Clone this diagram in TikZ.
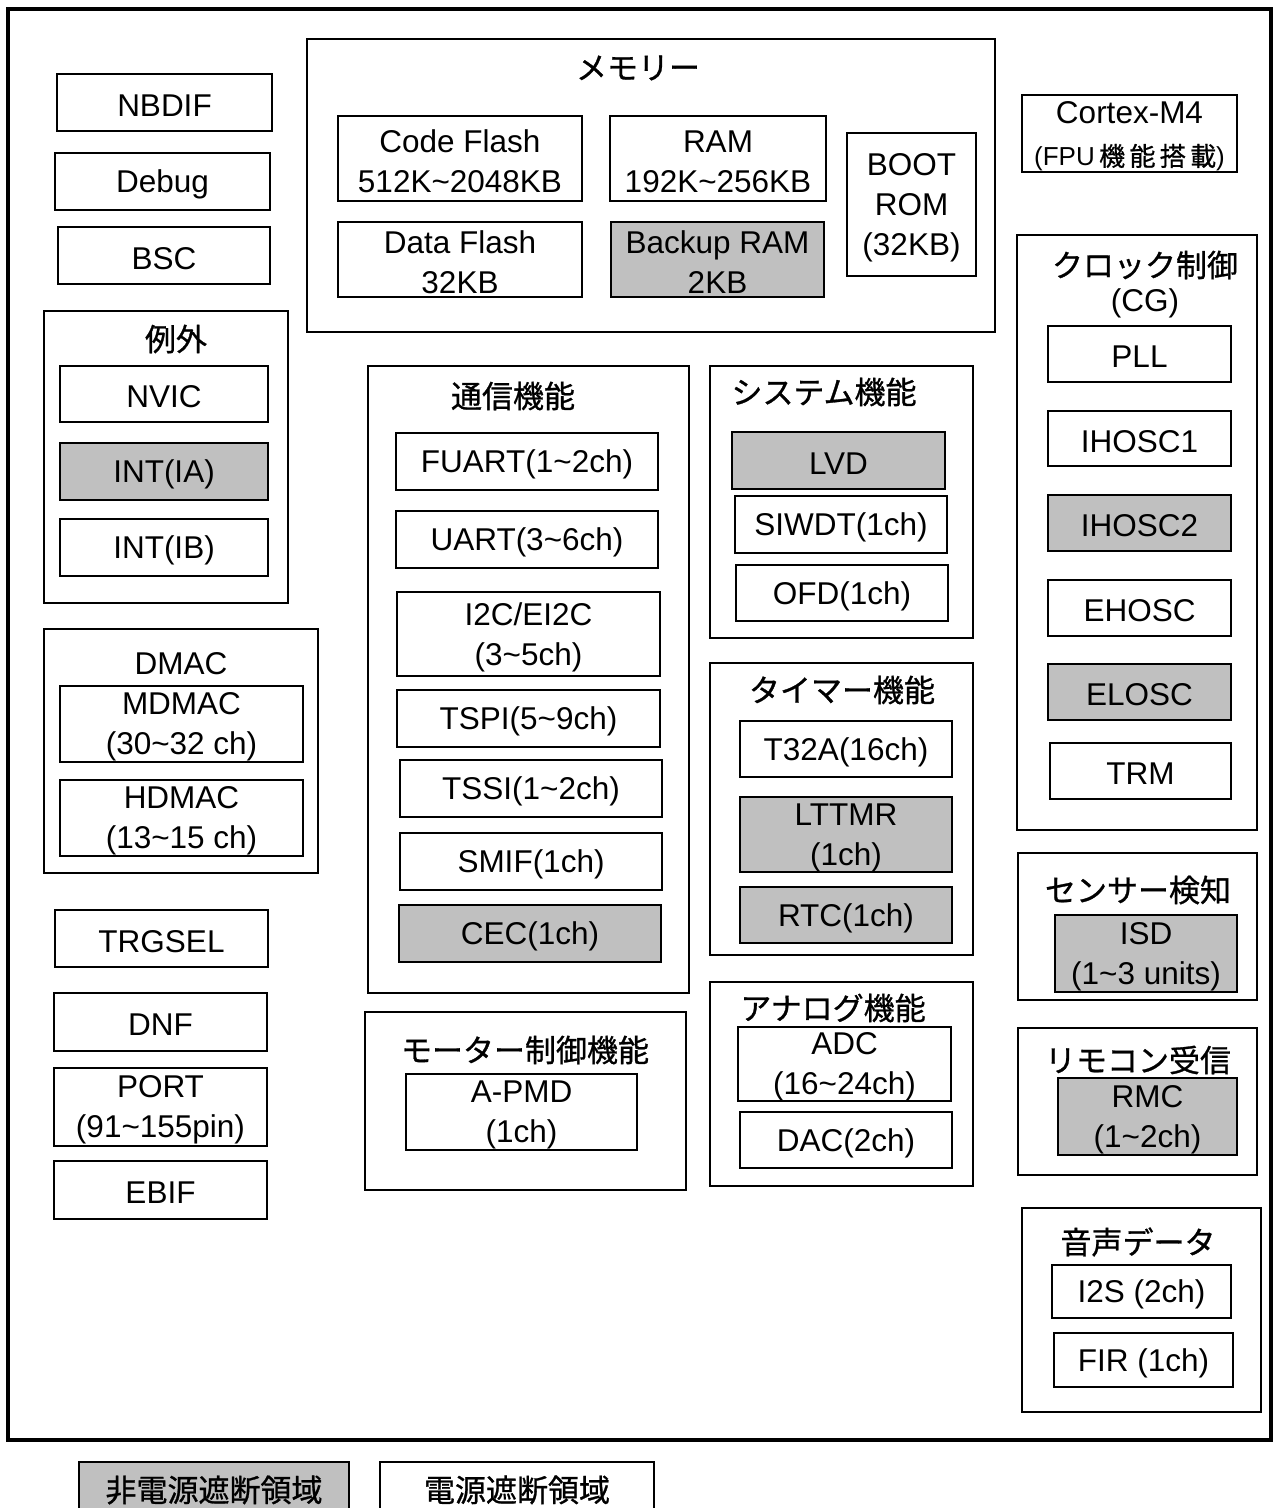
\documentclass[tikz,border=0pt]{standalone}
\usepackage{fontspec}
\setmainfont{Liberation Sans}
\newfontfamily\jpf[FakeBold=0.9]{Noto Sans CJK JP}
\definecolor{graybox}{HTML}{C0C0C0}
\tikzset{
  box/.style={draw=black, line width=2pt, inner sep=0pt, outer sep=0pt},
  txt/.style={inner sep=0pt, outer sep=0pt, align=center, font=\fontsize{31.5}{40}\selectfont},
  grp/.style={draw=black, line width=2.4pt, inner sep=0pt, outer sep=0pt},
  pwr/.style={fill=graybox},
  ttl/.style={inner sep=0pt, font=\fontsize{31}{38}\selectfont\jpf},
}
% \mybox[opts]{name}{x1}{y1}{x2}{y2}{text}
\newcommand{\mybox}[7][]{\node[box,#1,minimum width={#5-#3},minimum height={#6-#4}] (#2) at ({(#3+#5)/2},{(#4+#6)/2}) {};
  \node[txt] (#2-t) at ([yshift=-3pt]#2.center) {#7};}
\newcommand{\mygrp}[6][]{\node[grp,#1,minimum width={#5-#3},minimum height={#6-#4}] (#2) at ({(#3+#5)/2},{(#4+#6)/2}) {};}
\newcommand{\tld}{\textasciitilde}
\begin{document}
\begin{tikzpicture}[x=1pt,y=-1pt]
\useasboundingbox (0,0) rectangle (1279,1508);
\clip (0,0) rectangle (1279,1508);
\fill[white] (0,0) rectangle (1279,1508);
% outer frame
\draw[line width=3.5pt] (8,9) rectangle (1271,1440);

% left column
\mybox{nbdif}{57}{74}{272}{131}{NBDIF}
\mybox{debug}{55}{153}{270}{210}{Debug}
\mybox{bsc}{58}{227}{270}{284}{BSC}

\mygrp{gexc}{44}{311}{288}{603}
\node[ttl] (texc) at (176,339) {例外};
\mybox{nvic}{60}{366}{268}{422}{NVIC}
\mybox[pwr]{intia}{60}{443}{268}{500}{INT(IA)}
\mybox{intib}{60}{519}{268}{576}{INT(IB)}

\mygrp{gdmac}{44}{629}{318}{873}
\node[txt] (tdmac) at (181,664) {DMAC};
\mybox{mdmac}{60}{686}{303}{762}{MDMAC\\(30\tld32 ch)}
\mybox{hdmac}{60}{780}{303}{856}{HDMAC\\(13\tld15 ch)}

\mybox{trgsel}{55}{910}{268}{967}{TRGSEL}
\mybox{dnf}{54}{993}{267}{1051}{DNF}
\mybox{port}{54}{1068}{267}{1146}{PORT\\(91\tld155pin)}
\mybox{ebif}{54}{1161}{267}{1219}{EBIF}

% memory
\mygrp{gmem}{307}{39}{995}{332}
\node[ttl] (tmem) at (638,68) {メモリー};
\mybox{cflash}{338}{116}{582}{201}{Code Flash\\512K\tld2048KB}
\mybox{dflash}{338}{222}{582}{297}{Data Flash\\32KB}
\mybox{ram}{610}{116}{826}{201}{RAM\\192K\tld256KB}
\mybox[pwr]{bram}{611}{222}{824}{297}{Backup RAM\\2KB}
\mybox{boot}{847}{133}{976}{276}{BOOT\\ROM\\(32KB)}

% cortex
\mybox{cpu}{1022}{95}{1237}{172}{Cortex-M4\\[2pt]{\fontsize{26}{30}\selectfont(FPU\,{\jpf 機\,能\,搭\,載})}}

% clock
\mygrp{gclk}{1017}{235}{1257}{830}
\node[ttl] (tclk) at (1145,265) {クロック制御};
\node[txt] (tcg) at (1145,303) {(CG)};
\mybox{pll}{1048}{326}{1231}{382}{PLL}
\mybox{ihosc1}{1048}{411}{1231}{466}{IHOSC1}
\mybox[pwr]{ihosc2}{1048}{495}{1231}{551}{IHOSC2}
\mybox{ehosc}{1048}{580}{1231}{636}{EHOSC}
\mybox[pwr]{elosc}{1048}{664}{1231}{720}{ELOSC}
\mybox{trm}{1050}{743}{1231}{799}{TRM}

% communication
\mygrp{gcom}{368}{366}{689}{993}
\node[ttl] (tcom) at (513,396) {通信機能};
\mybox{fuart}{396}{433}{658}{490}{FUART(1\tld2ch)}
\mybox{uart}{396}{511}{658}{568}{UART(3\tld6ch)}
\mybox{i2c}{397}{592}{660}{676}{I2C/EI2C\\(3\tld5ch)}
\mybox{tspi}{397}{690}{660}{747}{TSPI(5\tld9ch)}
\mybox{tssi}{400}{760}{662}{817}{TSSI(1\tld2ch)}
\mybox{smif}{400}{833}{662}{890}{SMIF(1ch)}
\mybox[pwr]{cec}{399}{905}{661}{962}{CEC(1ch)}

% system
\mygrp{gsys}{710}{366}{973}{638}
\node[ttl] (tsys) at (824,392) {システム機能};
\mybox[pwr]{lvd}{732}{432}{945}{489}{LVD}
\mybox{siwdt}{735}{496}{947}{553}{SIWDT(1ch)}
\mybox{ofd}{736}{565}{948}{621}{OFD(1ch)}

% timer
\mygrp{gtim}{710}{663}{973}{955}
\node[ttl] (ttim) at (842,690) {タイマー機能};
\mybox{t32a}{740}{721}{952}{777}{T32A(16ch)}
\mybox[pwr]{lttmr}{740}{797}{952}{872}{LTTMR\\(1ch)}
\mybox[pwr]{rtc}{740}{887}{952}{943}{RTC(1ch)}

% analog
\mygrp{gana}{710}{982}{973}{1186}
\node[ttl] (tana) at (833,1008) {アナログ機能};
\mybox{adc}{738}{1027}{951}{1101}{ADC\\(16\tld24ch)}
\mybox{dac}{740}{1112}{952}{1168}{DAC(2ch)}

% motor
\mygrp{gmot}{365}{1012}{686}{1190}
\node[ttl] (tmot) at (525,1050) {モーター制御機能};
\mybox{apmd}{406}{1074}{637}{1150}{A-PMD\\(1ch)}

% sensor
\mygrp{gsen}{1018}{853}{1257}{1000}
\node[ttl] (tsen) at (1138,890) {センサー検知};
\mybox[pwr]{isd}{1055}{915}{1237}{992}{ISD\\(1\tld3 units)}

% remote
\mygrp{grem}{1018}{1028}{1257}{1175}
\node[ttl] (trem) at (1138,1060) {リモコン受信};
\mybox[pwr]{rmc}{1058}{1078}{1237}{1155}{RMC\\(1\tld2ch)}

% audio
\mygrp{gaud}{1022}{1208}{1261}{1412}
\node[ttl] (taud) at (1138,1242) {音声データ};
\mybox{i2s}{1052}{1265}{1231}{1318}{I2S (2ch)}
\mybox{fir}{1054}{1333}{1233}{1387}{FIR (1ch)}

% legend
\mybox[pwr]{leg1}{79}{1462}{349}{1520}{}
\node[ttl] (tleg1) at (214,1490) {非電源遮断領域};
\mybox{leg2}{380}{1462}{654}{1520}{}
\node[ttl] (tleg2) at (517,1490) {電源遮断領域};
\end{tikzpicture}
\end{document}
